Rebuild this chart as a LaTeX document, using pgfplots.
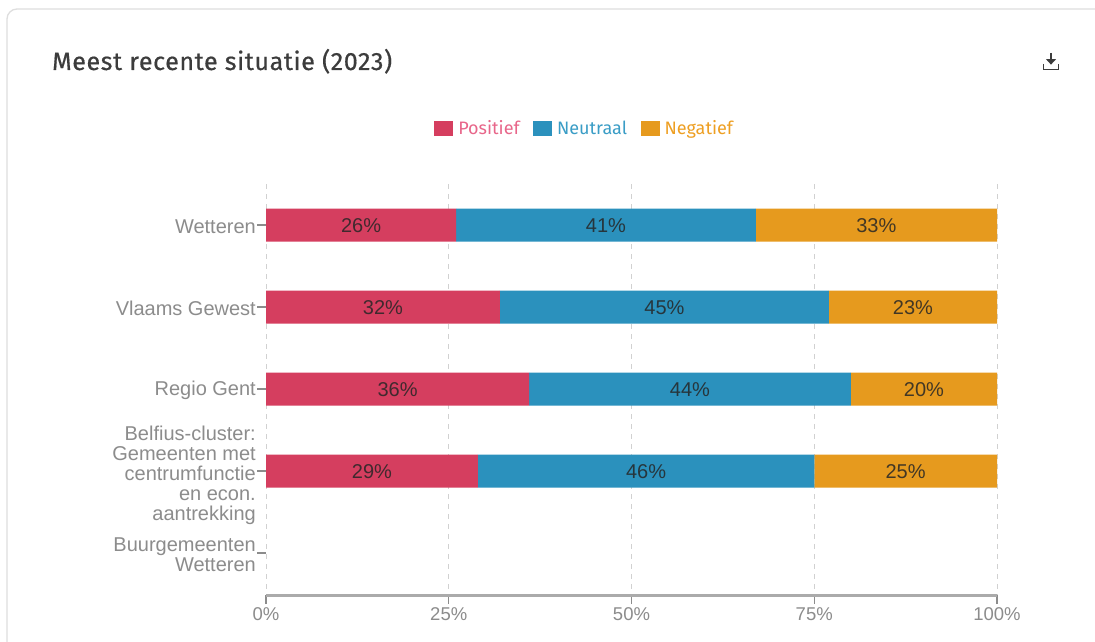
\documentclass[border=0pt]{standalone}
\usepackage{pgfplots}
\usepackage{pgfplotstable}
\usepackage{fontspec}
\pgfplotsset{compat=1.18}
\setmainfont{Liberation Sans}
\newfontfamily\headfont[LetterSpace=2.5,FakeBold=0.6]{Fira Sans}
\newfontfamily\legendfont{Fira Sans}
\definecolor{pos}{HTML}{D53E5F}
\definecolor{neu}{HTML}{2B91BD}
\definecolor{neg}{HTML}{E69A1E}
\definecolor{postext}{HTML}{E8668A}
\definecolor{neutext}{HTML}{3A9DC6}
\definecolor{negtext}{HTML}{EE9F22}
\definecolor{lab}{HTML}{8C8C8C}
\definecolor{ink}{HTML}{3C3C3C}

% Share of answers per area, in percent
\pgfplotstableread{
c pos neu neg
0 26 41 33
1 32 45 23
2 36 44 20
3 29 46 25
}\shares

\pgfplotsset{
  sharebar/.style={
    fill=#1, draw=none,
    point meta=\thisrow{#1},
    nodes near coords={\pgfmathprintnumber{\pgfplotspointmeta}\%},
    every node near coord/.append style={
      inner sep=0pt, text=black!85, text opacity=0.85, yshift=-1pt,
      font=\fontsize{20}{22}\selectfont
    }
  }
}

\begin{document}
\begin{tikzpicture}[x=1pt,y=1pt]
  \path[use as bounding box] (0,0) rectangle (1095,641);
  \fill[white] (0,0) rectangle (1095,641);
  % Card outline, running off the right and bottom edges
  \draw[black!13, line width=1.3pt, rounded corners=10pt]
    (1110,632) -- (7,632) -- (7,-20);
  \node[anchor=base west, inner sep=0pt, text=ink]
    at (52,571) {\headfont\fontsize{25}{27}\selectfont Meest recente situatie (2023)};
  % Download icon
  \begin{scope}[shift={(1051,579)}, ink, line width=1.7pt]
    \draw (0,9) -- (0,0);
    \fill (-5,2.8) -- (5,2.8) -- (0,-2.6) -- cycle;
    \draw (-7.6,-2) -- (-7.6,-7.6) -- (7.6,-7.6) -- (7.6,-2);
  \end{scope}
  \begin{axis}[
    at={(266pt,46pt)}, anchor=south west,
    scale only axis, width=731pt, height=411pt,
    xbar stacked, bar width=33pt,
    y dir=reverse,
    xmin=0, xmax=100, ymin=-0.5, ymax=4.512,
    axis line style={draw=none},
    axis x line*=bottom, axis y line*=left,
    xtick={0,25,50,75,100},
    xticklabel={\pgfmathprintnumber{\tick}\%},
    ytick={0,1,2,3,4},
    yticklabels={Wetteren,Vlaams Gewest,Regio Gent,
      {\rule{0pt}{21pt}Belfius-cluster:\\Gemeenten met\\centrumfunctie\\en econ.\\aantrekking},
      {Buurgemeenten\\Wetteren}},
    /pgf/number format/assume math mode=true,
    yticklabel style={align=right, text=lab, inner sep=0pt, xshift=-1pt, yshift=-1.5pt,
      font=\fontsize{20}{20}\selectfont},
    xticklabel style={text=lab, inner sep=0pt, yshift=-3pt,
      font=\fontsize{18.5}{20}\selectfont},
    tick style={draw=black!45, line width=1.1pt},
    major tick length=9pt,
    tick align=outside,
    xmajorgrids,
    grid style={draw=black!18, line width=1pt, dash pattern=on 5pt off 5pt},
    axis on top=false,
    legend columns=3,
    legend image code/.code={\fill[#1] (0pt,-7.5pt) rectangle (19pt,7.5pt);},
    legend style={
      at={(0.4345,1.136)}, anchor=center, draw=none, fill=none,
      inner sep=0pt, outer sep=0pt,
      font=\legendfont\fontsize{18}{20}\selectfont,
      /tikz/every even column/.append style={column sep=13.5pt},
      nodes={inner sep=0pt, anchor=west}
    },
    clip=false,
  ]
    \addplot[sharebar=pos] table[x=pos, y=c] {\shares};
    \addlegendentry{\hspace{5pt}\textcolor{postext}{Positief}}
    \addplot[sharebar=neu] table[x=neu, y=c] {\shares};
    \addlegendentry{\hspace{5pt}\textcolor{neutext}{Neutraal}}
    \addplot[sharebar=neg] table[x=neg, y=c] {\shares};
    \addlegendentry{\hspace{5pt}\textcolor{negtext}{Negatief}}
    % Baseline of the percentage axis
    \draw[black!33, line width=3pt] (rel axis cs:0,0) -- (rel axis cs:1,0);
  \end{axis}
\end{tikzpicture}
\end{document}
